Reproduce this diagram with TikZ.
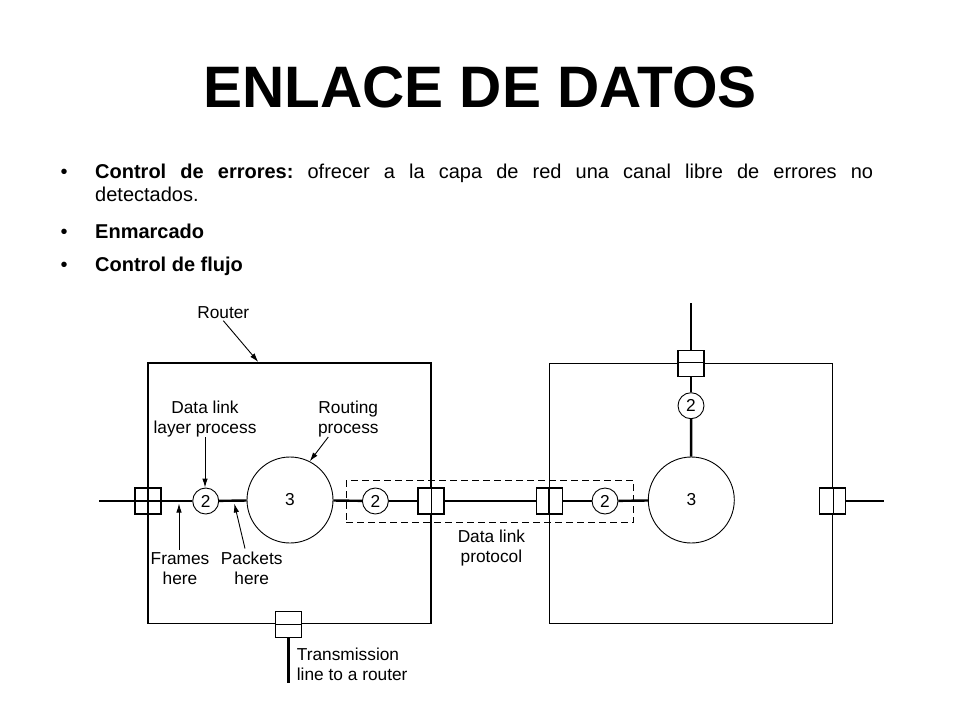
\documentclass[tikz,border=0pt]{standalone}
\usepackage{fontspec}
\setmainfont{Liberation Sans}
\usetikzlibrary{arrows.meta}
\begin{document}
\frenchspacing
\begin{tikzpicture}[x=1pt,y=-1pt,
  lbl/.style={font=\fontsize{17.3}{20}\selectfont, inner sep=0pt, align=center},
  btxt/.style={font=\fontsize{20}{23}\selectfont, inner sep=0pt, anchor=base west},
  bul/.style={font=\fontsize{20}{23}\selectfont, inner sep=0pt, anchor=base},
  port/.style={draw, line width=1.1pt, minimum size=26pt, inner sep=0pt},
  small/.style={circle, draw, line width=0.9pt, minimum size=26pt, inner sep=0pt, font=\fontsize{17.3}{20}\selectfont},
  big/.style={circle, draw, line width=0.9pt, minimum size=86pt, inner sep=0pt, font=\fontsize{17.3}{20}\selectfont},
  router/.style={draw, line width=1.1pt, minimum width=283pt, minimum height=260.5pt, inner sep=0pt},
  wire/.style={line width=2.4pt},
  midwire/.style={line width=1.8pt},
  pointer/.style={line width=0.9pt, -{Latex[length=9pt,width=5.5pt]}},
  dlbox/.style={draw, line width=1pt, dash pattern=on 7pt off 4pt, minimum width=287.5pt, minimum height=41.5pt, inner sep=0pt}
]
\useasboundingbox (0,0) rectangle (960,720);

% title and bullets
\node[font=\fontsize{58.5}{60}\selectfont\bfseries, anchor=base, inner sep=0pt] (title) at (480,107.3) {ENLACE DE DATOS};
\node[bul] (b1) at (64,178.3) {•};
\node[btxt] (t1) at (95,178.3) {\hbox to 778pt{\textbf{Control de errores:} ofrecer a la capa de red una canal libre de errores no}};
\node[btxt] (t1b) at (95,201) {detectados.};
\node[bul] (b2) at (64,238.8) {•};
\node[btxt] (t2) at (95,238.8) {\textbf{Enmarcado}};
\node[bul] (b3) at (64,271.7) {•};
\node[btxt] (t3) at (95,271.7) {\textbf{Control de flujo}};

% router boxes and dashed protocol box
\node[router] (boxL) at (289.5,493.25) {};
\node[router] (boxR) at (691,493.5) {};
\node[dlbox] (dl) at (489.75,501.5) {};

% coordinates for free ends
\coordinate (inL) at (99,501);
\coordinate (outR) at (883.6,501);
\coordinate (topEnd) at (691,303.3);
\coordinate (botEnd) at (288.5,683.3);

% ports and processes
\node[port] (sqL) at (148,501) {};
\node[small] (c2a) at (205.7,501) {2};
\node[big] (c3a) at (290,500) {3};
\node[small] (c2b) at (375.4,501) {2};
\node[port, fill=white] (sqA) at (431,501) {};
\node[port, fill=white] (sqB) at (549.5,501) {};
\node[small] (c2c) at (605,501) {2};
\node[big] (c3b) at (691.3,500) {3};
\node[port, fill=white] (sqR) at (832.3,501) {};
\node[port, fill=white] (sqT) at (691,363.5) {};
\node[small] (c2d) at (691,405.7) {2};
\node[port, fill=white] (sqBot) at (288.5,624.5) {};

% redraw the router edges that cross the filled ports
\draw[line width=1.1pt] (sqA.north -| boxL.east) -- (sqA.south -| boxL.east);
\draw[line width=1.1pt] (sqB.north -| boxR.west) -- (sqB.south -| boxR.west);
\draw[line width=1.1pt] (sqR.north -| boxR.east) -- (sqR.south -| boxR.east);
\draw[line width=1.1pt] (sqT.west |- boxR.north) -- (sqT.east |- boxR.north);
\draw[line width=1.1pt] (sqBot.west |- boxL.south) -- (sqBot.east |- boxL.south);

% wires
\draw[wire] (inL) -- (c2a);
\draw[wire] (c2a) -- (c3a);
\draw[wire] (c3a) -- (c2b);
\draw[wire] (c2b) -- (sqA);
\draw[midwire] (sqA) -- (sqB);
\draw[wire] (sqB) -- (c2c);
\draw[wire] (c2c) -- (c3b);
\draw[wire] (sqR) -- (outR);
\draw[wire] (topEnd) -- (sqT);
\draw[wire] (sqT) -- (c2d);
\draw[wire] (c2d) -- (c3b);
\draw[wire] (sqBot) -- (botEnd);

% labels (base anchor of a two-line label = baseline of its last line)
\node[lbl, anchor=base] (rlab) at (223.3,318.3) {Router};
\node[lbl, anchor=base] (dll) at (205,433.3) {Data link\\layer process};
\node[lbl, anchor=base] (rp) at (348.3,433.3) {Routing\\process};
\node[lbl, anchor=base] (fr) at (180,584) {Frames\\here};
\node[lbl, anchor=base] (pk) at (251.7,584) {Packets\\here};
\node[lbl, anchor=base] (dlp) at (491.4,562.3) {Data link\\protocol};
\node[lbl, anchor=base west, align=left] (tl) at (296.7,680.7) {Transmission\\line to a router};

% pointers
\coordinate (rTip) at (258.3,362);
\coordinate (rpStart) at (328.3,437);
\coordinate (frStart) at (179,549.5);
\coordinate (frTip) at (179,503.5);
\coordinate (pkStart) at (245,548.5);
\coordinate (pkTip) at (234.3,503.5);
\draw[pointer] (rlab.south) ++(0,2) -- (rTip);
\draw[pointer] (dll.south) -- (dll.south |- c2a.north);
\draw[pointer] (rpStart) -- (c3a.63);
\draw[pointer] (frStart) -- (frTip);
\draw[pointer] (pkStart) -- (pkTip);
\end{tikzpicture}
\end{document}
